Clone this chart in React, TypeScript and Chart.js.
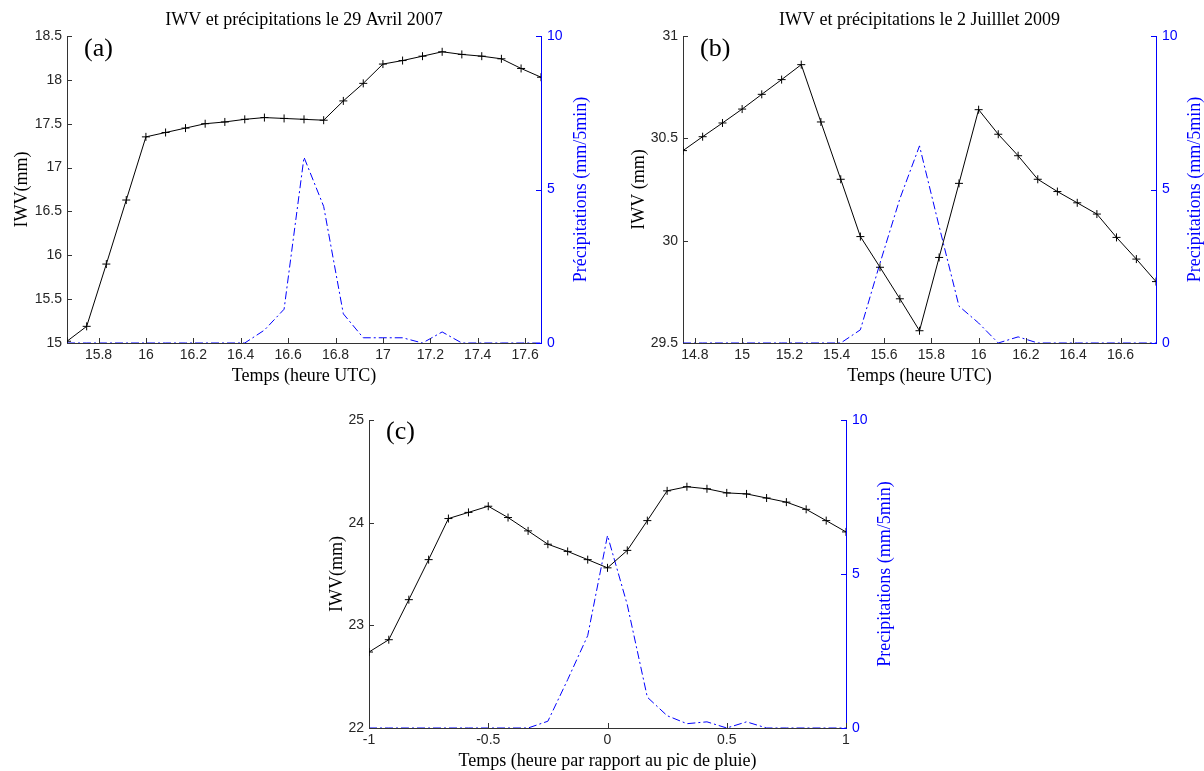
import React, { useEffect, useRef } from 'react';
import { Chart, registerables } from 'chart.js';

Chart.register(...registerables);

// ---------- Data ----------
// (a) 29 Avril 2007
const timeA = [15.667, 15.75, 15.833, 15.917, 16, 16.083, 16.167, 16.25, 16.333, 16.417, 16.5, 16.583, 16.667, 16.75, 16.833, 16.917, 17, 17.083, 17.167, 17.25, 17.333, 17.417, 17.5, 17.583, 17.667];
const iwvA = [15.02, 15.19, 15.9, 16.63, 17.35, 17.4, 17.45, 17.5, 17.52, 17.55, 17.57, 17.56, 17.55, 17.54, 17.76, 17.96, 18.18, 18.22, 18.27, 18.32, 18.29, 18.27, 18.24, 18.13, 18.03];
const precipA = [0, 0, 0, 0, 0, 0, 0, 0, 0, 0, 0.42, 1.1, 6.05, 4.45, 0.95, 0.17, 0.17, 0.17, 0, 0.36, 0, 0, 0, 0, 0];
const xTicksA = [15.8, 16, 16.2, 16.4, 16.6, 16.8, 17, 17.2, 17.4, 17.6];
const yTicksA = [15, 15.5, 16, 16.5, 17, 17.5, 18, 18.5];

// (b) 2 Juillet 2009
const timeB = [14.75, 14.833, 14.917, 15, 15.083, 15.167, 15.25, 15.333, 15.417, 15.5, 15.583, 15.667, 15.75, 15.833, 15.917, 16, 16.083, 16.167, 16.25, 16.333, 16.417, 16.5, 16.583, 16.667, 16.75];
const iwvB = [30.44, 30.508, 30.575, 30.643, 30.715, 30.787, 30.86, 30.58, 30.3, 30.02, 29.87, 29.716, 29.56, 29.918, 30.28, 30.64, 30.52, 30.415, 30.3, 30.24, 30.185, 30.13, 30.016, 29.91, 29.8];
const precipB = [0, 0, 0, 0, 0, 0, 0, 0, 0, 0.43, 2.6, 4.7, 6.42, 3.8, 1.2, 0.65, 0, 0.2, 0, 0, 0, 0, 0, 0, 0];
const xTicksB = [14.8, 15, 15.2, 15.4, 15.6, 15.8, 16, 16.2, 16.4, 16.6];
const yTicksB = [29.5, 30, 30.5, 31];

// (c) composite relative to rain peak
const timeC = [-1, -0.917, -0.833, -0.75, -0.667, -0.583, -0.5, -0.417, -0.333, -0.25, -0.167, -0.083, 0, 0.083, 0.167, 0.25, 0.333, 0.417, 0.5, 0.583, 0.667, 0.75, 0.833, 0.917, 1];
const iwvC = [22.74, 22.86, 23.25, 23.64, 24.04, 24.1, 24.16, 24.05, 23.92, 23.79, 23.72, 23.64, 23.56, 23.73, 24.02, 24.31, 24.35, 24.33, 24.29, 24.28, 24.24, 24.2, 24.13, 24.02, 23.91];
const precipC = [0, 0, 0, 0, 0, 0, 0, 0, 0, 0.22, 1.57, 3.0, 6.25, 4.0, 1.0, 0.4, 0.14, 0.2, 0, 0.2, 0, 0, 0, 0, 0];
const xTicksC = [-1, -0.5, 0, 0.5, 1];
const yTicksC = [22, 23, 24, 25];

const precipTicks = [0, 5, 10];

// ---------- Styles ----------
const BLUE = '#0000ff';
const AXIS = '#333333';
const TICK_TXT = '#262626';
const SANS = '"Liberation Sans", Arial, sans-serif';
const SERIF = '"Liberation Serif", "Times New Roman", serif';

type Spec = {
  left: number; top: number; w: number; h: number;
  padL: number; padR: number; padT: number; padB: number;
  time: number[]; iwv: number[]; precip: number[];
  xMin: number; xMax: number; yMin: number; yMax: number;
  xTicks: number[]; yTicks: number[];
  title: string; panel: string; panelDy: number;
  xTitle: string; yTitle: string; y1Title: string;
  yTitleOff: number; y1TitleOff: number;
};

function makeDecor(spec: Spec) {
  return {
    id: 'decor',
    afterDraw(chart: any) {
      const ctx = chart.ctx as CanvasRenderingContext2D;
      const { left, right, top, bottom } = chart.chartArea;
      const xs = chart.scales.x, ys = chart.scales.y, y1 = chart.scales.y1;
      ctx.save();
      ctx.lineWidth = 1;
      // inward tick marks
      ctx.strokeStyle = AXIS;
      ctx.beginPath();
      xs.ticks.forEach((t: any) => {
        const p = Math.round(xs.getPixelForValue(t.value)) + 0.5;
        ctx.moveTo(p, bottom);
        ctx.lineTo(p, bottom - 5);
      });
      ys.ticks.forEach((t: any) => {
        const p = Math.round(ys.getPixelForValue(t.value)) + 0.5;
        ctx.moveTo(left, p);
        ctx.lineTo(left + 5, p);
      });
      ctx.stroke();
      ctx.strokeStyle = BLUE;
      ctx.beginPath();
      y1.ticks.forEach((t: any) => {
        const p = Math.round(y1.getPixelForValue(t.value)) + 0.5;
        ctx.moveTo(right, p);
        ctx.lineTo(right - 5, p);
      });
      ctx.stroke();

      const cx = (left + right) / 2;
      const cy = (top + bottom) / 2;
      ctx.textBaseline = 'alphabetic';
      // title
      if (spec.title) {
        ctx.fillStyle = '#000';
        ctx.font = `18px ${SERIF}`;
        ctx.textAlign = 'center';
        ctx.fillText(spec.title, cx, top - 11);
      }
      // panel label
      ctx.fillStyle = '#000';
      ctx.font = `26px ${SERIF}`;
      ctx.textAlign = 'left';
      ctx.fillText(spec.panel, left + 17, top + spec.panelDy);
      // x title
      ctx.font = `18px ${SERIF}`;
      ctx.textAlign = 'center';
      ctx.fillText(spec.xTitle, cx, bottom + 38);
      // left y title
      ctx.save();
      ctx.translate(left - spec.yTitleOff, cy);
      ctx.rotate(-Math.PI / 2);
      ctx.fillText(spec.yTitle, 0, 0);
      ctx.restore();
      // right y title (reads bottom-to-top)
      ctx.save();
      ctx.fillStyle = BLUE;
      ctx.translate(right + spec.y1TitleOff, cy);
      ctx.rotate(-Math.PI / 2);
      ctx.fillText(spec.y1Title, 0, 0);
      ctx.restore();
      ctx.restore();
    },
  };
}

function Panel({ spec }: { spec: Spec }) {
  const ref = useRef<HTMLCanvasElement>(null);
  useEffect(() => {
    if (!ref.current) return;
    const tickFont = { family: SANS, size: 14 };
    const chart = new Chart(ref.current, {
      type: 'line',
      data: {
        datasets: [
          {
            label: 'IWV',
            data: spec.time.map((t, i) => ({ x: t, y: spec.iwv[i] })),
            yAxisID: 'y',
            borderColor: '#000',
            borderWidth: 1,
            pointStyle: 'cross',
            pointRadius: 4,
            pointBorderColor: '#000',
            pointBorderWidth: 1,
            tension: 0,
            fill: false,
          },
          {
            label: 'Précipitations',
            data: spec.time.map((t, i) => ({ x: t, y: spec.precip[i] })),
            yAxisID: 'y1',
            borderColor: BLUE,
            borderWidth: 1,
            borderDash: [8, 3, 2, 3],
            pointRadius: 0,
            tension: 0,
            fill: false,
          },
        ],
      },
      options: {
        responsive: false,
        animation: false,
        devicePixelRatio: 1,
        layout: { padding: { top: spec.padT, left: 0, right: 0, bottom: 0 } },
        plugins: {
          legend: { display: false },
          tooltip: { enabled: false },
          title: { display: false },
        },
        scales: {
          x: {
            type: 'linear',
            position: 'bottom',
            min: spec.xMin,
            max: spec.xMax,
            grid: { display: false, drawTicks: false },
            border: { display: true, color: AXIS, width: 1 },
            ticks: {
              font: tickFont,
              color: TICK_TXT,
              padding: 4,
              autoSkip: false,
              maxRotation: 0,
              callback: (v: any) => String(v),
            },
            afterBuildTicks: (s: any) => {
              s.ticks = spec.xTicks.map((v) => ({ value: v }));
            },
            afterFit: (s: any) => {
              s.height = spec.padB;
            },
          },
          y: {
            type: 'linear',
            position: 'left',
            min: spec.yMin,
            max: spec.yMax,
            grid: { display: false, drawTicks: false },
            border: { display: true, color: AXIS, width: 1 },
            ticks: {
              font: tickFont,
              color: TICK_TXT,
              padding: 5,
              callback: (v: any) => String(v),
            },
            afterBuildTicks: (s: any) => {
              s.ticks = spec.yTicks.map((v) => ({ value: v }));
            },
            afterFit: (s: any) => {
              s.width = spec.padL;
            },
          },
          y1: {
            type: 'linear',
            position: 'right',
            min: 0,
            max: 10,
            grid: { display: false, drawTicks: false },
            border: { display: true, color: BLUE, width: 1 },
            ticks: {
              font: tickFont,
              color: BLUE,
              padding: 6,
              callback: (v: any) => String(v),
            },
            afterBuildTicks: (s: any) => {
              s.ticks = precipTicks.map((v) => ({ value: v }));
            },
            afterFit: (s: any) => {
              s.width = spec.padR;
            },
          },
        },
      } as any,
      plugins: [makeDecor(spec)],
    });
    return () => chart.destroy();
  }, [spec]);
  return (
    <canvas
      ref={ref}
      width={spec.w}
      height={spec.h}
      style={{ position: 'absolute', left: spec.left, top: spec.top, width: spec.w, height: spec.h }}
    />
  );
}

const specA: Spec = {
  left: 0, top: 0, w: 602, h: 390,
  padL: 67, padR: 61, padT: 36, padB: 47,
  time: timeA, iwv: iwvA, precip: precipA,
  xMin: 15.667, xMax: 17.667, yMin: 15, yMax: 18.5,
  xTicks: xTicksA, yTicks: yTicksA,
  title: 'IWV et précipitations le 29 Avril 2007', panel: '(a)', panelDy: 20,
  xTitle: 'Temps (heure UTC)', yTitle: 'IWV(mm)', y1Title: 'Précipitations (mm/5min)',
  yTitleOff: 40, y1TitleOff: 45,
};

const specB: Spec = {
  left: 602, top: 0, w: 602, h: 390,
  padL: 81, padR: 48, padT: 36, padB: 47,
  time: timeB, iwv: iwvB, precip: precipB,
  xMin: 14.75, xMax: 16.75, yMin: 29.5, yMax: 31,
  xTicks: xTicksB, yTicks: yTicksB,
  title: 'IWV et précipitations le 2 Juilllet 2009', panel: '(b)', panelDy: 20,
  xTitle: 'Temps (heure UTC)', yTitle: 'IWV (mm)', y1Title: 'Precipitations (mm/5min)',
  yTitleOff: 39, y1TitleOff: 44,
};

const specC: Spec = {
  left: 300, top: 395, w: 604, h: 376,
  padL: 69, padR: 58, padT: 25, padB: 43,
  time: timeC, iwv: iwvC, precip: precipC,
  xMin: -1, xMax: 1, yMin: 22, yMax: 25,
  xTicks: xTicksC, yTicks: yTicksC,
  title: '', panel: '(c)', panelDy: 19,
  xTitle: 'Temps (heure par rapport au pic de pluie)', yTitle: 'IWV(mm)', y1Title: 'Precipitations (mm/5min)',
  yTitleOff: 27, y1TitleOff: 44,
};

export default function App() {
  return (
    <div style={{ position: 'absolute', left: 0, top: 0, width: 1204, height: 771, background: '#fff' }}>
      <Panel spec={specA} />
      <Panel spec={specB} />
      <Panel spec={specC} />
    </div>
  );
}
